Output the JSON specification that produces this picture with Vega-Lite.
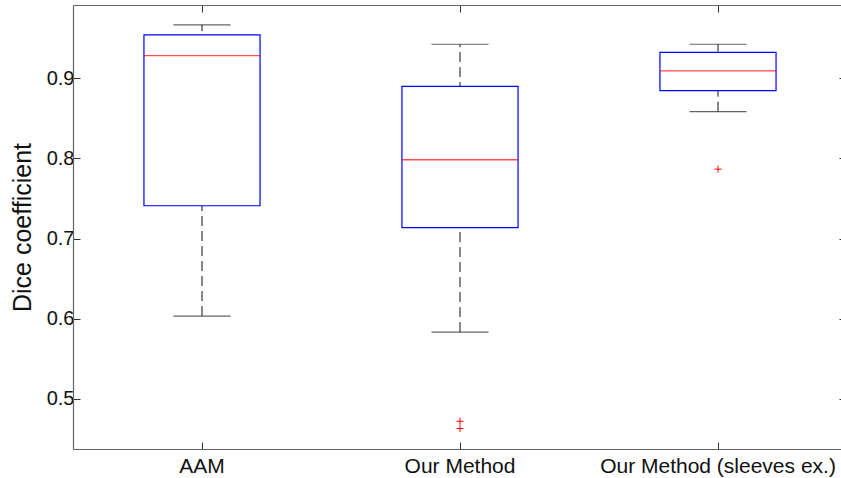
{
  "$schema": "https://vega.github.io/schema/vega-lite/v6.json",
  "width": 768,
  "height": 444,
  "autosize": "none",
  "padding": {"left": 73, "top": 5, "right": 0, "bottom": 29},
  "background": "white",
  "config": {
    "view": {"stroke": null},
    "font": "Liberation Sans",
    "axis": {
      "labelFont": "Liberation Sans",
      "titleFont": "Liberation Sans",
      "labelColor": "#111",
      "titleColor": "#111",
      "domainColor": "#666",
      "domainWidth": 1.2,
      "tickColor": "#333",
      "tickWidth": 1,
      "grid": false,
      "labelLimit": 0
    }
  },
  "datasets": {
    "boxes": [
      {"group": "AAM", "lo": 0.6034, "q1": 0.741, "med": 0.9284, "q3": 0.9543, "hi": 0.9667},
      {"group": "Our Method", "lo": 0.5834, "q1": 0.7138, "med": 0.7984, "q3": 0.89, "hi": 0.9425},
      {"group": "Our Method (sleeves ex.)", "lo": 0.8584, "q1": 0.8846, "med": 0.9093, "q3": 0.9325, "hi": 0.9425}
    ],
    "outliers": [
      {"group": "Our Method", "value": 0.4721},
      {"group": "Our Method", "value": 0.463},
      {"group": "Our Method (sleeves ex.)", "value": 0.7867}
    ]
  },
  "resolve": {"axis": {"x": "independent", "y": "independent"}},
  "layer": [
    {
      "data": {"name": "boxes"},
      "mark": {"type": "rule", "color": "#111", "strokeWidth": 1, "strokeDash": [10, 5]},
      "encoding": {
        "x": {
          "field": "group", "type": "nominal", "sort": null,
          "scale": {"type": "band", "range": [0, 774], "paddingInner": 0, "paddingOuter": 0,
                    "domain": ["AAM", "Our Method", "Our Method (sleeves ex.)"]},
          "axis": {"orient": "bottom", "title": null, "labelAngle": 0, "labelFontSize": 21,
                   "tickSize": -7, "labelPadding": 13}
        },
        "y": {
          "field": "lo", "type": "quantitative",
          "scale": {"domain": [0.4375, 0.9915], "nice": false, "zero": false},
          "axis": {"orient": "left", "title": "Dice coefficient", "titleFontSize": 25,
                   "titleFontWeight": "normal", "titlePadding": 11,
                   "values": [0.5, 0.6, 0.7, 0.8, 0.9], "format": ".1f",
                   "labelFontSize": 20, "tickSize": -7, "labelPadding": 6}
        },
        "y2": {"field": "hi"}
      }
    },
    {
      "data": {"name": "boxes"},
      "mark": {"type": "bar", "fill": "white", "stroke": "#0000ff", "strokeWidth": 1.2,
               "width": {"band": 0.45}},
      "encoding": {
        "x": {"field": "group", "type": "nominal", "sort": null,
              "axis": {"orient": "top", "title": null, "labels": false, "tickSize": -7}},
        "y": {"field": "q1", "type": "quantitative",
              "axis": {"orient": "right", "title": null, "labels": false, "domain": false,
                       "values": [0.5, 0.6, 0.7, 0.8, 0.9], "tickSize": -2}},
        "y2": {"field": "q3"}
      }
    },
    {
      "data": {"name": "boxes"},
      "mark": {"type": "tick", "color": "#ff0000", "thickness": 1.3, "size": 116, "orient": "horizontal"},
      "encoding": {
        "x": {"field": "group", "type": "nominal", "sort": null, "axis": null},
        "y": {"field": "med", "type": "quantitative", "axis": null}
      }
    },
    {
      "data": {"name": "boxes"},
      "mark": {"type": "tick", "color": "#222", "thickness": 1.2, "size": 57, "orient": "horizontal"},
      "encoding": {
        "x": {"field": "group", "type": "nominal", "sort": null, "axis": null},
        "y": {"field": "lo", "type": "quantitative", "axis": null}
      }
    },
    {
      "data": {"name": "boxes"},
      "mark": {"type": "tick", "color": "#222", "thickness": 1.2, "size": 57, "orient": "horizontal"},
      "encoding": {
        "x": {"field": "group", "type": "nominal", "sort": null, "axis": null},
        "y": {"field": "hi", "type": "quantitative", "axis": null}
      }
    },
    {
      "data": {"name": "outliers"},
      "mark": {"type": "point", "shape": "M-1,0L1,0M0,-1L0,1", "filled": false,
               "stroke": "#ff0000", "strokeWidth": 1, "size": 49, "opacity": 1},
      "encoding": {
        "x": {"field": "group", "type": "nominal", "sort": null, "axis": null},
        "y": {"field": "value", "type": "quantitative", "axis": null}
      }
    }
  ]
}
